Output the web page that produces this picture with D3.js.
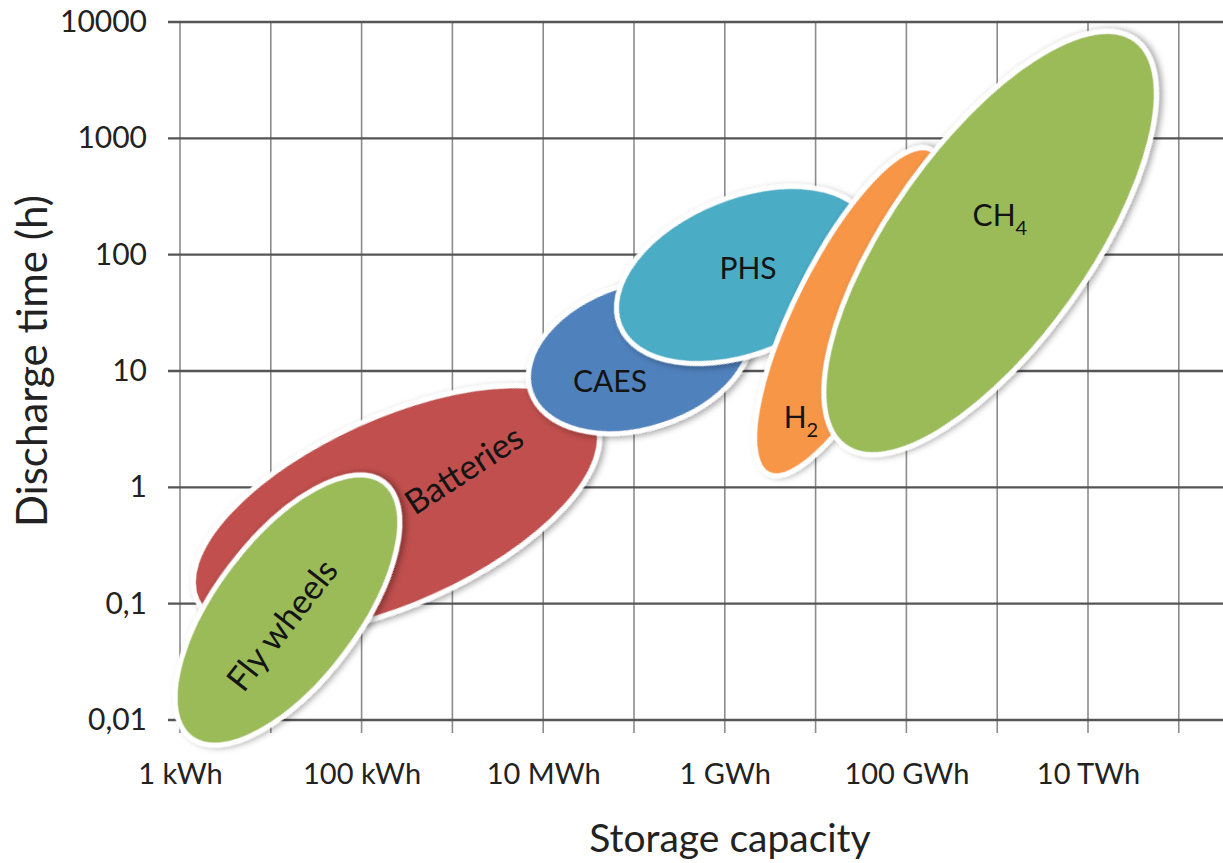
<!DOCTYPE html>
<html>
<head>
<meta charset="utf-8">
<script src="https://cdn.jsdelivr.net/npm/d3@7"></script>
<style>
  body { margin: 0; background: #fff; }
  svg { display: block; font-family: Lato, "Open Sans", sans-serif; }
</style>
</head>
<body>
<script>
// storage technologies, in drawing order (back to front)
const techs = ["Batteries", "Fly wheels", "CAES", "PHS", "H2", "CH4"];
// ends of each region's long axis: storage capacity (kWh) and discharge time (h)
const capFrom   = [1.54, 1.32, 7266, 69800, 3.0e6, 2.11e7];
const capTo     = [38000, 176, 1.87e6, 3.99e7, 1.86e8, 3.3e10];
const hoursFrom = [0.107, 0.007, 6.66, 24.5, 1.3, 2.24];
const hoursTo   = [3.79, 1.11, 27.2, 182, 803, 7070];
// width of each region relative to its length
const widthRatio = [0.43, 0.45, 0.63, 0.58, 0.3, 0.40];

// where the name of each region sits (kWh, h)
const labelCap   = [1343, 13.3, 54400, 1.8e6, 6.9e6, 1.07e9];
const labelHours = [1.41, 0.0655, 8.1, 76, 4.0, 215];

const yTicks = [0.01, 0.1, 1, 10, 100, 1000, 10000];
const yTickLabels = ["0,01", "0,1", "1", "10", "100", "1000", "10000"];
const xGrid = d3.range(0, 12).map(e => Math.pow(10, e));
const xTicks = [1, 1e2, 1e4, 1e6, 1e8, 1e10];
const xTickLabels = ["1 kWh", "100 kWh", "10 MWh", "1 GWh", "100 GWh", "10 TWh"];

const colors = ["#c0504d", "#9bbb59", "#4f81bd", "#4bacc6", "#f79646", "#9bbb59"];
const labelText = [["Batteries", ""], ["Fly wheels", ""], ["CAES", ""], ["PHS", ""], ["H", "2"], ["CH", "4"]];
const labelAngle = [-33, -52, 0, 0, 0, 0];
const labelSize = [34, 34, 30, 30, 30, 30];

const chart = () => {
  const width = 1223;
  const height = 863;
  const decade = 90.8;

  const x = d3.scaleLog()
      .domain([1, Math.pow(10, 11.5)])
      .range([180, 180 + 11.5 * decade]);
  const y = d3.scaleLog()
      .domain([0.01, 10000])
      .range([720, 22]);

  const svg = d3.select("body").append("svg")
      .attr("width", width)
      .attr("height", height);

  const filter = svg.append("defs").append("filter")
      .attr("id", "shadow")
      .attr("x", "-20%").attr("y", "-20%")
      .attr("width", "140%").attr("height", "140%");
  filter.append("feDropShadow")
      .attr("dx", 2).attr("dy", 3)
      .attr("stdDeviation", 3)
      .attr("flood-color", "#000")
      .attr("flood-opacity", 0.35);

  // grid
  svg.append("g")
    .selectAll("line")
    .data(xGrid)
    .join("line")
      .attr("x1", d => x(d)).attr("x2", d => x(d))
      .attr("y1", y(10000)).attr("y2", y(0.01) + 13)
      .attr("stroke", "#8c8c8c")
      .attr("stroke-width", 1.6);

  svg.append("g")
    .selectAll("line")
    .data(yTicks)
    .join("line")
      .attr("x1", x(1) - 12).attr("x2", width)
      .attr("y1", d => y(d)).attr("y2", d => y(d))
      .attr("stroke", "#555")
      .attr("stroke-width", 2.4);

  // axes (labels only, the grid draws the lines)
  svg.append("g")
      .attr("transform", `translate(${x(1)},0)`)
      .call(d3.axisLeft(y)
        .tickValues(yTicks)
        .tickFormat((d, i) => yTickLabels[i])
        .tickSize(0)
        .tickPadding(33))
      .call(g => g.select(".domain").remove())
      .selectAll("text")
        .attr("font-family", "Lato, sans-serif")
        .attr("font-size", 30)
        .attr("fill", "#222");

  svg.append("g")
      .attr("transform", `translate(0,${y(0.01)})`)
      .call(d3.axisBottom(x)
        .tickValues(xTicks)
        .tickFormat((d, i) => xTickLabels[i])
        .tickSize(0)
        .tickPadding(43))
      .call(g => g.select(".domain").remove())
      .selectAll("text")
        .attr("font-family", "Lato, sans-serif")
        .attr("font-size", 29)
        .attr("fill", "#222");

  // regions
  const regions = techs.map((t, i) => {
    const x1 = x(capFrom[i]), y1 = y(hoursFrom[i]);
    const x2 = x(capTo[i]), y2 = y(hoursTo[i]);
    const a = Math.hypot(x2 - x1, y2 - y1) / 2;
    return {
      name: t,
      cx: (x1 + x2) / 2,
      cy: (y1 + y2) / 2,
      a: a,
      b: a * widthRatio[i],
      angle: Math.atan2(y2 - y1, x2 - x1) * 180 / Math.PI,
      color: colors[i]
    };
  });

  svg.append("g")
    .selectAll("ellipse")
    .data(regions)
    .join("ellipse")
      .attr("transform", d => `translate(${d.cx},${d.cy}) rotate(${d.angle})`)
      .attr("rx", d => d.a)
      .attr("ry", d => d.b)
      .attr("fill", d => d.color)
      .attr("stroke", "#fff")
      .attr("stroke-width", 5)
      .attr("filter", "url(#shadow)");

  const labels = svg.append("g")
    .selectAll("text")
    .data(techs)
    .join("text")
      .attr("transform", (d, i) => `translate(${x(labelCap[i])},${y(labelHours[i])}) rotate(${labelAngle[i]})`)
      .attr("text-anchor", "middle")
      .attr("dy", "0.35em")
      .attr("font-size", (d, i) => labelSize[i])
      .attr("fill", "#141414");
  labels.append("tspan").text((d, i) => labelText[i][0]);
  labels.append("tspan")
      .attr("font-size", 20)
      .attr("dy", "0.45em")
      .text((d, i) => labelText[i][1]);

  // axis titles
  svg.append("text")
      .attr("x", 730)
      .attr("y", 852)
      .attr("text-anchor", "middle")
      .attr("font-size", 39)
      .attr("fill", "#222")
      .text("Storage capacity");

  svg.append("text")
      .attr("transform", "translate(47,361) rotate(-90)")
      .attr("text-anchor", "middle")
      .attr("font-size", 42)
      .attr("fill", "#222")
      .text("Discharge time (h)");

  return svg.node();
};

chart();
</script>
</body>
</html>
